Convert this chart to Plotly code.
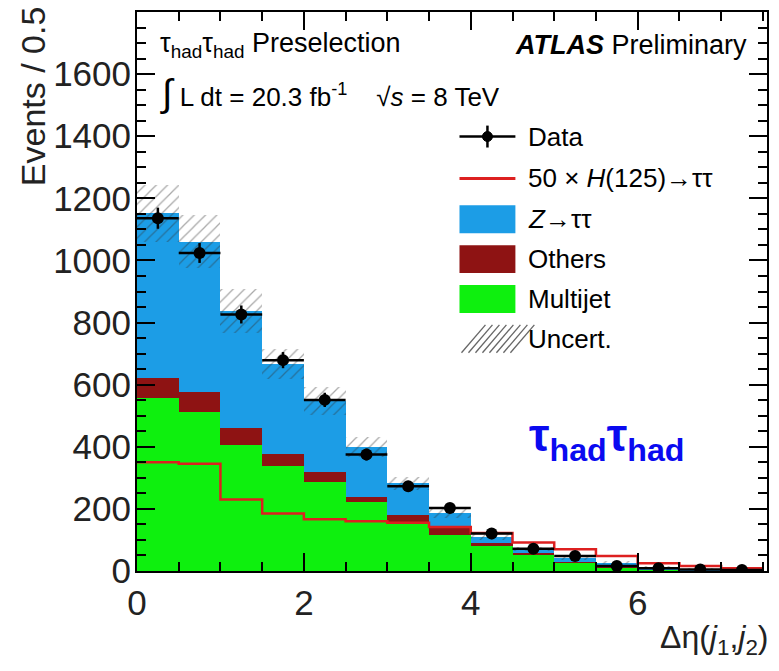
import plotly.graph_objects as go

# ---------------- data ----------------
bin_lo = [0.0, 0.5, 1.0, 1.5, 2.0, 2.5, 3.0, 3.5, 4.0, 4.5, 5.0, 5.5, 6.0, 6.5, 7.0]
bin_width = 0.5
multijet = [558, 511, 407, 337, 286, 222, 155, 115, 81, 54, 27, 10, 4, 2, 1]
others = [65, 66, 55, 40, 32, 16, 25, 28, 9, 4, 3, 3, 2, 1, 1]
ztautau = [529, 484, 374, 289, 230, 160, 102, 44, 20, 13, 12, 14, 6, 5, 2]
uncert = [92, 86, 71, 48, 45, 32, 22, 15, 10, 7, 5, 4, 3, 2, 2]
higgs50 = [350, 345, 230, 185, 167, 160, 155, 142, 122, 92, 70, 48, 25, 16, 9]
data = [1136, 1024, 826, 679, 551, 375, 273, 203, 121, 72, 48, 16, 9, 5, 3]
data_err = [34, 32, 29, 26, 23, 19, 17, 14, 11, 8, 7, 4, 3, 2, 2]
y_ticks = [0, 200, 400, 600, 800, 1000, 1200, 1400, 1600]
x_ticks = [0, 2, 4, 6]

C_Z = "#1c9de6"
C_OTH = "#8e1313"
C_MJ = "#0ef00e"
C_RED = "#dd2020"
FONT = "Liberation Sans, Arial, Helvetica, sans-serif"

centers = [b + bin_width / 2 for b in bin_lo]
base_oth = multijet
base_z = [m + o for m, o in zip(multijet, others)]
total = [m + o + z for m, o, z in zip(multijet, others, ztautau)]
unc_base = [t - u for t, u in zip(total, uncert)]
unc_h = [2 * u for u in uncert]

fig = go.Figure()
fig.add_trace(go.Bar(x=centers, y=multijet, width=bin_width, marker=dict(color=C_MJ, line=dict(width=0)),
                     name="Multijet"))
fig.add_trace(go.Bar(x=centers, y=others, base=base_oth, width=bin_width,
                     marker=dict(color=C_OTH, line=dict(width=0)), name="Others"))
fig.add_trace(go.Bar(x=centers, y=ztautau, base=base_z, width=bin_width,
                     marker=dict(color=C_Z, line=dict(width=0)), name="Z"))
fig.add_trace(go.Bar(x=centers, y=unc_h, base=unc_base, width=bin_width,
                     marker=dict(color="rgba(0,0,0,0)", line=dict(width=0),
                                 pattern=dict(shape="/", fgcolor="rgba(50,50,50,0.85)",
                                              bgcolor="rgba(0,0,0,0)", size=8, solidity=0.16)),
                     name="Uncert."))
# Higgs x50 step line
hx = bin_lo + [bin_lo[-1] + bin_width]
hy = higgs50 + [higgs50[-1]]
fig.add_trace(go.Scatter(x=hx, y=hy, mode="lines", line=dict(color=C_RED, width=2.5, shape="hv"),
                         name="H"))
fig.add_trace(go.Scatter(x=centers, y=data, mode="markers",
                         marker=dict(color="black", size=12),
                         error_y=dict(type="data", array=data_err, color="black", thickness=2.5, width=0),
                         error_x=dict(type="constant", value=bin_width / 2, color="black", thickness=2.5, width=0),
                         name="Data"))

L, R, T, B = 137, 768, 10, 571


def px(x):
    return (x - L) / (R - L)


def py(y):
    return (B - y) / (B - T)


ann = []
shapes = []


def text(x, y, s, size, xanchor="left", yanchor="middle", color="black", angle=0):
    ann.append(dict(x=px(x), y=py(y), xref="paper", yref="paper", text=s, showarrow=False,
                    xanchor=xanchor, yanchor=yanchor, textangle=angle,
                    font=dict(family=FONT, size=size, color=color)))


text(158, 43, "τ<sub>had</sub>τ<sub>had</sub> Preselection", 27)
text(750, 43, "<b><i>ATLAS</i></b> Preliminary", 27, xanchor="right")
text(158, 92, "<span style='font-size:38px'>∫</span> L dt = 20.3 fb<sup>-1</sup>    √<i>s</i> = 8 TeV", 26)

# legend
leg_x0, leg_x1 = 460, 516
tx = 527
LS = 26
text(tx, 135, "Data", LS)
shapes.append(dict(type="line", xref="paper", yref="paper", x0=px(leg_x0), x1=px(leg_x1), y0=py(135), y1=py(135),
                   line=dict(color="black", width=2.5)))
shapes.append(dict(type="line", xref="paper", yref="paper", x0=px(488), x1=px(488), y0=py(124), y1=py(146),
                   line=dict(color="black", width=2.5)))
shapes.append(dict(type="circle", xref="paper", yref="paper", x0=px(483), x1=px(493), y0=py(130), y1=py(140),
                   fillcolor="black", line=dict(color="black", width=1)))
text(tx, 177, "50 × <i>H</i>(125)→ττ", LS)
shapes.append(dict(type="line", xref="paper", yref="paper", x0=px(leg_x0), x1=px(leg_x1), y0=py(177), y1=py(177),
                   line=dict(color=C_RED, width=3)))
for label, col, yc in [("<i>Z</i>→ττ", C_Z, 218), ("Others", C_OTH, 258), ("Multijet", C_MJ, 298)]:
    text(tx, yc, label, LS)
    shapes.append(dict(type="rect", xref="paper", yref="paper", x0=px(leg_x0), x1=px(leg_x1),
                       y0=py(yc - 14), y1=py(yc + 14), fillcolor=col, line=dict(width=0)))
text(tx, 338, "Uncert.", LS)
for k in range(0, 8):
    xs = leg_x0 + 2 + k * 7
    shapes.append(dict(type="line", xref="paper", yref="paper", x0=px(xs), x1=px(xs + 24),
                       y0=py(352), y1=py(324), line=dict(color="#666", width=1.3)))

# big channel label
text(608, 438, "<b>τ<sub>had</sub>τ<sub>had</sub></b>", 46, xanchor="center", color="#0a0af0")

# axis titles
ann.append(dict(x=px(33), y=py(2), xref="paper", yref="paper", text="Events / 0.5", showarrow=False,
                textangle=-90, xanchor="center", yanchor="top", font=dict(family=FONT, size=34, color="#222")))
text(772, 640, "Δη(<i>j</i><sub>1</sub>,<i>j</i><sub>2</sub>)", 32, xanchor="right", color="#222")

axis_common = dict(showline=True, linecolor="black", linewidth=2, mirror="allticks", ticks="inside",
                   tickcolor="black", tickwidth=2, showgrid=False, zeroline=False,
                   tickfont=dict(family=FONT, size=35, color="#222"))
fig.update_xaxes(range=[0, 7.55], tickvals=x_ticks, ticklen=18,
                 minor=dict(dtick=0.5, ticks="inside", ticklen=9, tickcolor="black", tickwidth=2, showgrid=False),
                 **axis_common)
fig.update_yaxes(range=[0, 1800], tickvals=y_ticks, ticklen=18, ticklabelstandoff=-3,
                 minor=dict(dtick=50, ticks="inside", ticklen=9, tickcolor="black", tickwidth=2, showgrid=False),
                 **axis_common)

fig.update_layout(width=779, height=671, barmode="overlay", bargap=0, showlegend=False,
                  margin=dict(l=L, r=779 - R, t=T, b=671 - B),
                  plot_bgcolor="white", paper_bgcolor="white",
                  annotations=ann, shapes=shapes)

fig.write_html("out.html")
